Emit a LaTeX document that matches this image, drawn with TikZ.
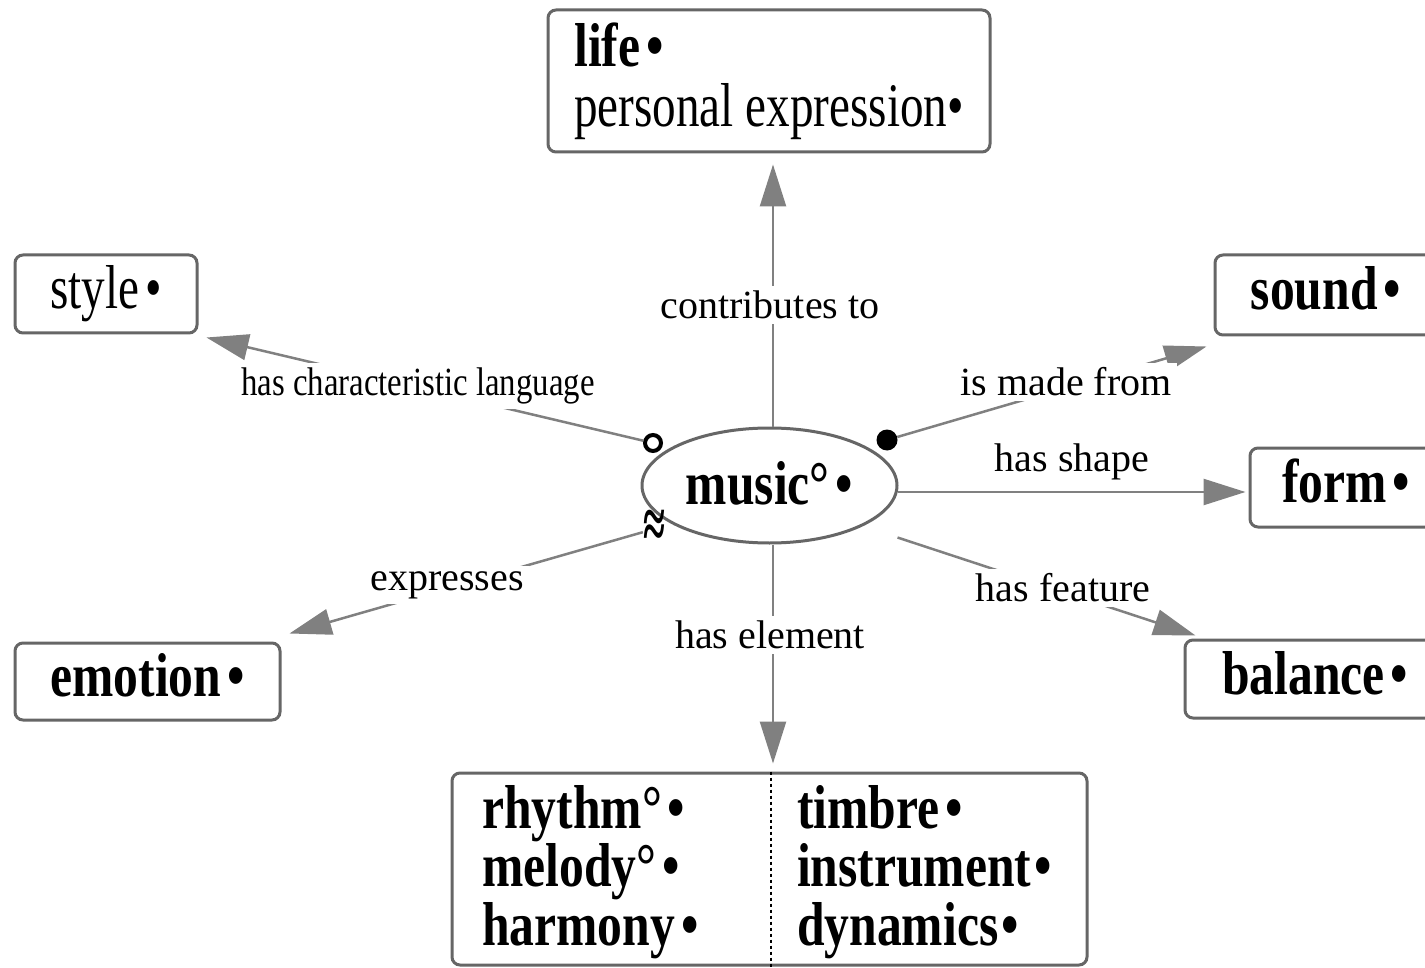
\documentclass[tikz,border=0pt]{standalone}
\usepackage{fontspec}
\setmainfont{Liberation Serif}
\newfontfamily\bfc[FakeStretch=0.8]{Liberation Serif}
\newfontfamily\rgc[FakeStretch=0.76]{Liberation Serif}
\newfontfamily\lbc[FakeStretch=0.82]{Liberation Serif}
\usetikzlibrary{shapes.geometric,arrows.meta}
\newcommand\bigsize{\fontsize{62}{60}\selectfont}
\newcommand\labsize{\fontsize{40}{44}\selectfont}
\newcommand\bsp{\kern6pt}
\begin{document}
\begin{tikzpicture}[x=1pt,y=-1pt,
 box/.style={draw=black!60,line width=3pt,rounded corners=8pt,inner sep=0pt},
 onebox/.style={box,text height=44pt,text depth=14pt,font=\bigsize\bfc\bfseries},
 conn/.style={draw=black!50,line width=2.5pt,-{Triangle[length=42pt,width=26pt]}},
 lab/.style={fill=white,inner sep=5pt,font=\labsize},
 col/.style={align=left,inner sep=0pt,anchor=west,font=\fontsize{62}{58.5}\selectfont\bfc\bfseries}]
\useasboundingbox (0,0) rectangle (1425,968);
\clip (0,0) rectangle (1425,968);
\fill[white] (0,0) rectangle (1425,968);

% boxes
\node[box,minimum width=442pt,minimum height=142pt,align=left,font=\bigsize] (lifebox) at (769,81) {{\bfc\bfseries life\bsp•}\\{\rgc personal expression•}};
\node[onebox,minimum width=182pt,minimum height=78pt,font=\bigsize\rgc] (stylebox) at (106,294) {style\bsp•};
\node[onebox,minimum width=222pt,minimum height=80pt] (soundbox) at (1326,295) {sound\bsp•};
\node[onebox,minimum width=192pt,minimum height=79pt] (formbox) at (1346,487.5) {form\bsp•};
\node[onebox,minimum width=260pt,minimum height=78pt] (balancebox) at (1315,679) {balance\bsp•};
\node[onebox,minimum width=265pt,minimum height=77pt] (emobox) at (147.5,681.5) {emotion\bsp•};
\node[box,minimum width=635pt,minimum height=192pt] (elem) at (769.5,869) {};
\node[col] (elemL) at (482,872) {rhythm°\bsp•\\melody°\bsp•\\harmony\bsp•};
\node[col] (elemR) at (797,872) {timbre\bsp•\\instrument\kern3pt•\\dynamics\kern3pt•};
\draw[black,line width=1.5pt,dash pattern=on 3pt off 3pt] ([xshift=1.5pt]elem.north) -- ([xshift=1.5pt]elem.south);

% central concept
\node[ellipse,draw=black!60,line width=3pt,minimum width=255pt,minimum height=115pt,inner sep=0pt,text height=50pt,text depth=12pt,font=\bigsize\bfc\bfseries] (music) at (769.5,485.5) {music°\bsp•};

% markers
\node[circle,draw=black,line width=4pt,minimum size=16pt,inner sep=0pt] (om) at (653,443) {};
\node[circle,fill=black,minimum size=21pt,inner sep=0pt] (fm) at (887,440) {};
\node[inner sep=0pt,font=\fontsize{40}{40}\selectfont\bfseries] (am) at (654,529) {\scalebox{1}[1.8]{≈}};

% connectors
\draw[conn] ([xshift=3.5pt]music.north) -- ([xshift=4pt,yshift=-11pt]lifebox.south);
\draw[conn] (om) -- ([xshift=8pt,yshift=-3pt]stylebox.south east);
\draw[conn] (fm) -- ([xshift=-7pt,yshift=-10pt]soundbox.south west);
\draw[conn] ([xshift=128pt,yshift=-6.5pt]music.center) -- ([xshift=-3pt,yshift=-4.5pt]formbox.west);
\draw[conn] ([xshift=128pt,yshift=-52pt]music.center) -- ([xshift=12pt,yshift=3pt]balancebox.north west);
\draw[conn] (am) -- ([xshift=8pt,yshift=8pt]emobox.north east);
\draw[conn] ([xshift=3.5pt]music.south) -- ([xshift=3.5pt,yshift=8pt]elem.north);

% labels
\node[lab] (l1) at (770,305) {contributes to};
\node[lab,font=\labsize\lbc] (l2) at (418,386) {has characteristic language};
\node[lab] (l3) at (1066,382) {is made from};
\node[lab] (l4) at (1072,462) {has shape};
\node[lab] (l5) at (1063,588) {has feature};
\node[lab] (l6) at (447,585) {expresses};
\node[lab] (l7) at (770,635) {has element};
\end{tikzpicture}
\end{document}
